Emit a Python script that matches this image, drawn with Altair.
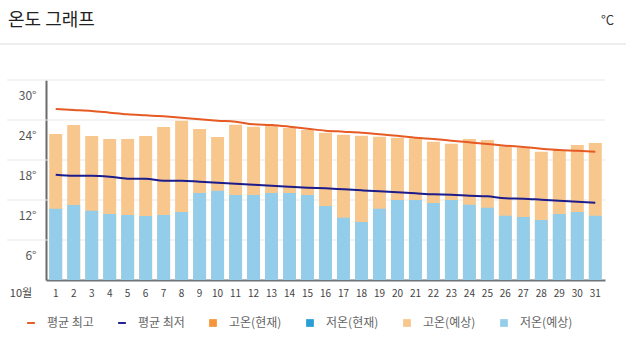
import altair as alt
import pandas as pd

# ---------------- data ----------------
days = list(range(1, 32))
high_forecast = [21.9, 23.25, 21.6, 21.15, 21.15, 21.6, 22.95, 23.9, 22.65, 21.45,
                 23.3, 23.0, 23.1, 22.8, 22.5, 22.1, 21.8, 21.65, 21.5, 21.35,
                 21.25, 20.75, 20.45, 21.15, 21.0, 20.05, 19.85, 19.25, 19.5, 20.25, 20.55]
low_forecast = [10.7, 11.25, 10.4, 9.9, 9.75, 9.6, 9.75, 10.2, 13.05, 13.4,
                12.75, 12.75, 13.05, 13.05, 12.75, 11.1, 9.35, 8.7, 10.7, 12.0,
                12.0, 11.55, 12.0, 11.3, 10.85, 9.65, 9.45, 9.0, 9.9, 10.2, 9.65]
avg_high = [25.65, 25.5, 25.35, 25.1, 24.85, 24.7, 24.55, 24.35, 24.1, 23.9,
            23.75, 23.35, 23.25, 23.0, 22.7, 22.4, 22.25, 22.1, 21.85, 21.65,
            21.35, 21.15, 20.9, 20.65, 20.4, 20.15, 19.95, 19.7, 19.5, 19.4, 19.25]
avg_low = [15.8, 15.65, 15.65, 15.5, 15.2, 15.2, 14.9, 14.9, 14.75, 14.6,
           14.45, 14.3, 14.15, 14.0, 13.85, 13.75, 13.6, 13.45, 13.3, 13.15,
           13.0, 12.85, 12.8, 12.65, 12.55, 12.25, 12.2, 12.05, 11.9, 11.75, 11.6]
y_ticks = [6, 12, 18, 24, 30]
legend_names = ["평균 최고", "평균 최저", "고온(현재)", "저온(현재)", "고온(예상)", "저온(예상)"]
legend_colors = ["#E65A24", "#1C1C8C", "#F5963A", "#2A9FD6", "#F8C78E", "#93CDEA"]
title_text = "온도 그래프"
unit_text = "°C"
month_text = "10월"

df = pd.DataFrame({"day": days, "high": high_forecast, "low": low_forecast,
                   "avg_high": avg_high, "avg_low": avg_low})

W, H = 559, 200
FONT = "Noto Sans CJK KR"

yscale = alt.Scale(domain=[0, 30], nice=False, zero=True)
xscale = alt.Scale(paddingInner=0.28, paddingOuter=0.18)

x_axis = alt.Axis(title=None, labelAngle=0, ticks=False, domainColor="#6f7579",
                  domainWidth=2, labelFontSize=10, labelColor="#444",
                  labelPadding=8, labelFont=FONT)
y_axis = alt.Axis(title=None, values=y_ticks, labelExpr="datum.value + '°'",
                  grid=False, ticks=False, domainColor="#6a6a6a", domainWidth=2,
                  labelOffset=15, labelPadding=10, labelFontSize=12,
                  labelColor="#555", labelFont=FONT)

def X():
    return alt.X("day:O", scale=xscale, axis=x_axis)

def Y(field):
    return alt.Y(field, type="quantitative", scale=yscale, axis=y_axis)

base = alt.Chart(df)

grid = alt.Chart(pd.DataFrame({"v": y_ticks})).mark_rule(
    color="#e9e9e9", strokeWidth=1).encode(
    y=Y("v"), x=alt.value(-39), x2=alt.value(W))

high_bars = base.mark_bar(color=legend_colors[4]).encode(x=X(), y=Y("high"))
low_bars = base.mark_bar(color=legend_colors[5]).encode(x=X(), y=Y("low"))
line_max = base.mark_line(color=legend_colors[0], strokeWidth=2,
                          interpolate="monotone").encode(x=X(), y=Y("avg_high"))
line_min = base.mark_line(color=legend_colors[1], strokeWidth=2,
                          interpolate="monotone").encode(x=X(), y=Y("avg_low"))

sep = alt.Chart(pd.DataFrame({"a": [0]})).mark_rule(color="#dcdcdc").encode(
    x=alt.value(-46), x2=alt.value(580), y=alt.value(-36))
title = alt.Chart(pd.DataFrame({"t": [title_text]})).mark_text(
    align="left", baseline="middle", fontSize=18, font=FONT, color="#222").encode(
    text="t:N", x=alt.value(-38), y=alt.value(-59))
unit = alt.Chart(pd.DataFrame({"t": [unit_text]})).mark_text(
    align="right", baseline="middle", fontSize=13, font=FONT, color="#333").encode(
    text="t:N", x=alt.value(568), y=alt.value(-59))
month = alt.Chart(pd.DataFrame({"t": [month_text]})).mark_text(
    align="center", baseline="middle", fontSize=11, font=FONT, color="#444").encode(
    text="t:N", x=alt.value(-25), y=alt.value(214))

line_path = "M-1,-0.25L1,-0.25L1,0.25L-1,0.25Z"
shape_range = [line_path, line_path, "square", "square", "square", "square"]
legend = alt.Legend(title=None, orient="none", legendX=-21, legendY=237,
                    direction="horizontal", columns=6, labelFont=FONT,
                    labelFontSize=12, labelColor="#666", symbolSize=60,
                    labelOffset=10, columnPadding=22, padding=0,
                    symbolStrokeWidth=0)
legend_layer = alt.Chart(pd.DataFrame({"series": legend_names})).transform_filter(
    "false").mark_point(filled=True, opacity=1).encode(
    color=alt.Color("series:N", scale=alt.Scale(domain=legend_names, range=legend_colors), legend=legend),
    shape=alt.Shape("series:N", scale=alt.Scale(domain=legend_names, range=shape_range), legend=legend))

chart = alt.layer(sep, title, unit, grid, high_bars, low_bars, line_max, line_min,
                  month, legend_layer).properties(
    width=W, height=H,
    padding={"left": 46, "top": 80, "right": 21, "bottom": 73},
    autosize=alt.AutoSizeParams(type="none"),
    background="white",
).configure_view(stroke=None)

chart.save("out.html", embed_options={"renderer": "svg", "actions": False})
